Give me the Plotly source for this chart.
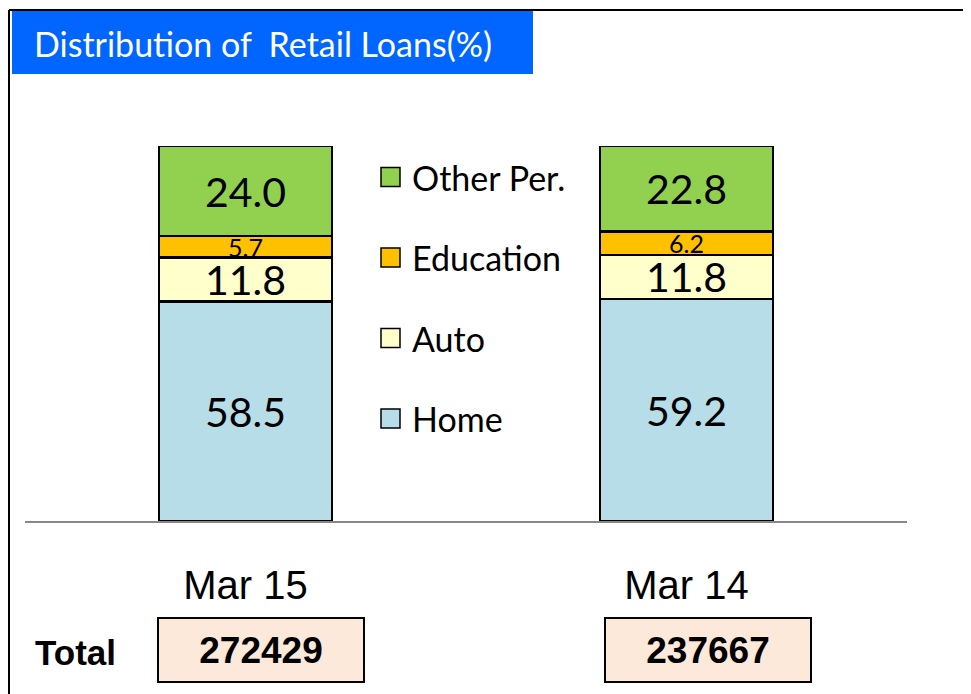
import plotly.graph_objects as go

periods = ["Mar 15", "Mar 14"]
segments = ["Home", "Auto", "Education", "Other Per."]
home = [58.5, 59.2]
auto = [11.8, 11.8]
education = [5.7, 6.2]
other = [24.0, 22.8]
totals = [272429, 237667]

colors = {"Home": "#B7DDE8", "Auto": "#FFFFCC", "Education": "#FFC000", "Other Per.": "#92D050"}
label_size = {"Home": 41, "Auto": 41, "Education": 25, "Other Per.": 41}

# page is offset by the 8px body margin
OFF = 8
W, H = 971 - OFF, 694 - OFF
L, R, T, B = 17, 64, 138, 173
pw, ph = W - L - R, H - T - B


def px(x):
    # page pixel -> paper
    return (x - OFF - L) / pw


def py(y):
    return (H - B - (y - OFF)) / ph


fig = go.Figure()
for name, vals in zip(segments, [home, auto, education, other]):
    fig.add_trace(go.Bar(
        x=periods, y=vals, name=name, showlegend=False,
        marker=dict(color=colors[name], line=dict(color="black", width=2.5)),
        text=[f"{v:.1f}" for v in vals], textposition="inside",
        insidetextanchor="middle", textangle=0, constraintext="none",
        textfont=dict(family="Lato", size=label_size[name], color="black"),
        hoverinfo="skip",
    ))

# legend, top item first
for i, name in enumerate(reversed(segments)):
    yc = 177 + i * 80.5
    fig.add_shape(type="rect", xref="paper", yref="paper", x0=px(381), x1=px(400),
                  y0=py(yc - 9.5), y1=py(yc + 9.5), fillcolor=colors[name],
                  line=dict(color="black", width=1.5))
    fig.add_annotation(xref="paper", yref="paper", x=px(410), y=py(yc), xanchor="left",
                       yanchor="middle", text=name, showarrow=False,
                       font=dict(family="Lato", size=34, color="black"))

# frame and title box
fig.add_shape(type="line", xref="paper", yref="paper", x0=px(9), x1=px(9), y0=py(10), y1=py(700),
              line=dict(color="black", width=2))
fig.add_shape(type="line", xref="paper", yref="paper", x0=px(9), x1=px(975), y0=py(10), y1=py(10),
              line=dict(color="black", width=2))
fig.add_shape(type="rect", xref="paper", yref="paper", x0=px(12), x1=px(533), y0=py(11), y1=py(74),
              fillcolor="#0066FF", line=dict(width=0))
fig.add_annotation(xref="paper", yref="paper", x=px(32), y=py(44), xanchor="left", yanchor="middle",
                   text="Distribution of  Retail Loans(%)", showarrow=False,
                   font=dict(family="Lato", size=34, color="white"))

# totals row
fig.add_annotation(xref="paper", yref="paper", x=px(75), y=py(652), xanchor="center", yanchor="middle",
                   text="<b>Total</b>", showarrow=False,
                   font=dict(family="Liberation Sans", size=35, color="black"))
for cx, tot in zip([261, 708], totals):
    fig.add_annotation(xref="paper", yref="paper", x=px(cx), y=py(650), xanchor="center",
                       yanchor="middle", text=f"<b>{tot}</b>",
                       showarrow=False, width=204, height=62, bgcolor="#FDE9D9",
                       bordercolor="black", borderwidth=2, borderpad=0,
                       font=dict(family="Liberation Sans", size=37, color="black"))

fig.update_layout(
    width=W, height=H, barmode="stack", bargap=0.608,
    margin=dict(l=L, r=R, t=T, b=B),
    paper_bgcolor="white", plot_bgcolor="white",
    xaxis=dict(showline=True, linecolor="#888888", linewidth=2, ticks="", showgrid=False,
               ticklabelstandoff=28, tickfont=dict(family="Liberation Sans", size=40, color="black")),
    yaxis=dict(visible=False, range=[0, 100]),
    showlegend=False,
)

fig.write_html("out.html")
